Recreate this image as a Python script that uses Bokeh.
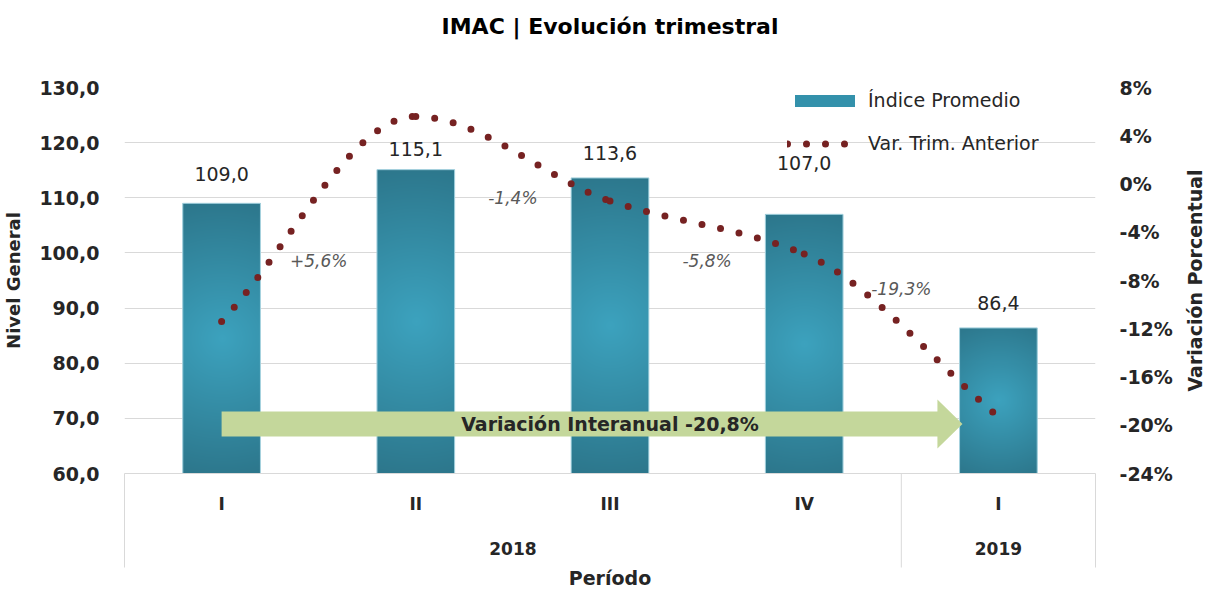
import math
import numpy as np
from bokeh.plotting import figure
from bokeh.models import (Range1d, LinearAxis, FixedTicker, Legend, LegendItem,
                          ColumnDataSource)
from bokeh.embed import file_html
from bokeh.resources import INLINE
from bokeh.core.properties import value

# ---------------- data ----------------
years = ["2018", "2018", "2018", "2018", "2019"]
quarters = ["I", "II", "III", "IV", "I"]
indice = [109.0, 115.1, 113.6, 107.0, 86.4]          # Índice Promedio
var_trim = [-11.4, 5.6, -1.4, -5.8, -19.3]            # Var. Trim. Anterior (%)
interanual = -20.8                                     # Variación Interanual (%)
left_ticks = [60, 70, 80, 90, 100, 110, 120, 130]
left_tick_labels = ["60,0", "70,0", "80,0", "90,0", "100,0", "110,0", "120,0", "130,0"]
right_ticks = [-24, -20, -16, -12, -8, -4, 0, 4, 8]
right_tick_labels = ["-24%", "-20%", "-16%", "-12%", "-8%", "-4%", "0%", "4%", "8%"]
title_text = "IMAC | Evolución trimestral"

# ---------------- layout / style ----------------
FONT = "DejaVu Sans"
FRAME_W, FRAME_H = 971, 386
Y0, Y1 = 60, 130
P0, P1 = -24, 8
PX_PER_Y = FRAME_H / (Y1 - Y0)
PX_PER_X = FRAME_W / len(quarters)
BAR_W = 0.4
EDGE = np.array([44, 118, 139], dtype=float)
CENTER = np.array([60, 162, 190], dtype=float)
DOT = "#762222"
GRID = "#D9D9D9"
TXT = "#262626"
ARROW = "#C4D79B"

n = len(quarters)
xnum = [i + 0.5 for i in range(n)]
bounds = [0] + [i for i in range(1, n) if years[i] != years[i - 1]] + [n]
year_names = [years[b] for b in bounds[:-1]]
year_centers = [(bounds[k] + bounds[k + 1]) / 2 for k in range(len(bounds) - 1)]

p = figure(x_range=Range1d(0, n), y_range=Range1d(Y0, Y1),
           frame_width=FRAME_W, frame_height=FRAME_H,
           min_border_left=116, min_border_right=112, min_border_top=87, min_border_bottom=10,
           output_backend="svg", toolbar_location=None, x_axis_location=None)
p.extra_y_ranges = {"pct": Range1d(P0, P1)}
p.outline_line_color = None
p.background_fill_color = "white"

# grid
p.xgrid.grid_line_color = None
p.ygrid.grid_line_color = GRID
p.ygrid.ticker = FixedTicker(ticks=left_ticks)


def style_axis(ax, size="19px"):
    ax.major_tick_line_color = None
    ax.minor_tick_line_color = None
    ax.major_tick_out = 0
    ax.major_tick_in = 0
    ax.minor_tick_out = 0
    ax.minor_tick_in = 0
    ax.major_label_text_font = FONT
    ax.major_label_text_font_size = size
    ax.major_label_text_font_style = "bold"
    ax.major_label_text_color = TXT
    ax.axis_label_text_font = FONT
    ax.axis_label_text_font_style = "bold"
    ax.axis_label_text_color = TXT


# left axis
ya = p.yaxis[0]
style_axis(ya)
ya.ticker = FixedTicker(ticks=left_ticks)
ya.major_label_overrides = dict(zip(left_ticks, left_tick_labels))
ya.axis_line_color = None
ya.major_label_standoff = 25
ya.axis_label = "Nivel General"
ya.axis_label_text_font_size = "18px"
ya.axis_label_standoff = 12

# right axis
ra = LinearAxis(y_range_name="pct", ticker=FixedTicker(ticks=right_ticks))
style_axis(ra)
ra.major_label_overrides = dict(zip(right_ticks, right_tick_labels))
ra.axis_line_color = None
ra.major_label_standoff = 24
p.add_layout(ra, "right")

# bottom: quarter axis + year axis
qa = LinearAxis(ticker=FixedTicker(ticks=xnum))
style_axis(qa, "17px")
qa.major_label_overrides = dict(zip(xnum, quarters))
qa.axis_line_color = GRID
qa.major_label_standoff = 20
p.add_layout(qa, "below")

yr = LinearAxis(ticker=FixedTicker(ticks=year_centers))
style_axis(yr, "17px")
yr.major_label_overrides = dict(zip(year_centers, year_names))
yr.axis_line_color = None
yr.major_label_standoff = 25
yr.axis_label = "Período"
yr.axis_label_text_font_size = "19px"
yr.axis_label_standoff = 9
p.add_layout(yr, "below")

# title and right axis title, drawn outside the frame (overlay level)
p.text(x=[n / 2], y=[Y1 + 61 / PX_PER_Y], text=[title_text], level="overlay",
       text_align="center", text_baseline="middle", text_font=value(FONT),
       text_font_size="22px", text_font_style="bold", text_color="black")
p.text(x=[n + 99 / PX_PER_X], y=[(Y0 + Y1) / 2], text=["Variación Porcentual"],
       level="overlay", angle=math.pi / 2, text_align="center", text_baseline="middle",
       text_font=value(FONT), text_font_size="19px", text_font_style="bold",
       text_color=TXT)

# group separators below the axis
sep_bottom = Y0 - 94 / PX_PER_Y
p.segment(x0=bounds, y0=[Y0] * len(bounds), x1=bounds, y1=[sep_bottom] * len(bounds),
          line_color=GRID, line_width=1, level="overlay")

# bars: base vbar (legend), gradient images, outline
bar_src = ColumnDataSource(dict(x=xnum, top=indice))
bars = p.vbar(x="x", top="top", bottom=Y0, width=BAR_W, source=bar_src,
              fill_color="#3391AB", line_color=None)


def gradient(w_px, h_px):
    xs = np.arange(w_px) + 0.5 - w_px / 2
    ys = np.arange(h_px) + 0.5 - h_px / 2
    X, Y = np.meshgrid(xs, ys)
    R = np.hypot(w_px / 2, h_px / 2)
    tt = np.clip(np.hypot(X, Y) / R, 0, 1)[..., None]
    c = CENTER * (1 - tt) + EDGE * tt
    img = np.empty((h_px, w_px), dtype=np.uint32)
    view = img.view(dtype=np.uint8).reshape((h_px, w_px, 4))
    view[..., :3] = np.round(c).astype(np.uint8)
    view[..., 3] = 255
    return img


for xc, v in zip(xnum, indice):
    w_px = int(round(BAR_W * PX_PER_X))
    h_px = max(2, int(round((v - Y0) * PX_PER_Y)))
    p.image_rgba(image=[gradient(w_px, h_px)], x=xc - BAR_W / 2, y=Y0, dw=BAR_W, dh=v - Y0)

p.vbar(x="x", top="top", bottom=Y0, width=BAR_W, source=bar_src,
       fill_alpha=0, line_color="#A9D4E0", line_width=1)

# bar value labels
lbl_dy = [-29, -21, -25, -51, -25]
p.text(x=xnum, y=indice, text=[f"{v:.1f}".replace(".", ",") for v in indice],
       y_offset=lbl_dy, text_align="center", text_baseline="middle",
       text_font=value(FONT), text_font_size="19px", text_color=TXT)

# smoothed dotted line (monotone cubic, drawn as bezier segments)
d = [(var_trim[i + 1] - var_trim[i]) / (xnum[i + 1] - xnum[i]) for i in range(n - 1)]
m = [d[0]]
for i in range(1, n - 1):
    if d[i - 1] * d[i] <= 0:
        m.append(0.0)
    else:
        m.append(2 * d[i - 1] * d[i] / (d[i - 1] + d[i]))
m.append(d[-1])
seg = dict(x0=[], y0=[], x1=[], y1=[], cx0=[], cy0=[], cx1=[], cy1=[])
for i in range(n - 1):
    h = xnum[i + 1] - xnum[i]
    seg["x0"].append(xnum[i]); seg["y0"].append(var_trim[i])
    seg["x1"].append(xnum[i + 1]); seg["y1"].append(var_trim[i + 1])
    seg["cx0"].append(xnum[i] + h / 3); seg["cy0"].append(var_trim[i] + m[i] * h / 3)
    seg["cx1"].append(xnum[i + 1] - h / 3); seg["cy1"].append(var_trim[i + 1] - m[i + 1] * h / 3)
curve = p.bezier(source=ColumnDataSource(seg), x0="x0", y0="y0", x1="x1", y1="y1",
                 cx0="cx0", cy0="cy0", cx1="cx1", cy1="cy1",
                 y_range_name="pct", line_color=DOT, line_width=7,
                 line_dash="0 19", line_cap="round")

# percent labels
pct_label_y = [-6.4, -1.2, -6.4, -8.7]
p.text(x=[float(i) for i in range(1, n)], y=pct_label_y,
       text=[f"{v:+.1f}%".replace(".", ",") for v in var_trim[1:]],
       y_range_name="pct", text_align="center", text_baseline="middle",
       text_font=value(FONT), text_font_size="17px", text_font_style="italic",
       text_color="#595959")

# interannual arrow
ay, body_h, head_h = 68.97, 2.27, 4.45
ax0, ax_head, ax_tip = xnum[0], 4.186, 4.315
p.patch(x=[ax0, ax_head, ax_head, ax_tip, ax_head, ax_head, ax0],
        y=[ay + body_h, ay + body_h, ay + head_h, ay, ay - head_h, ay - body_h, ay - body_h],
        fill_color=ARROW, line_color=None)
p.text(x=[n / 2], y=[ay],
       text=[f"Variación Interanual {interanual:.1f}%".replace(".", ",")],
       text_align="center", text_baseline="middle",
       text_font=value(FONT), text_font_size="19px", text_font_style="bold", text_color=TXT)

legend = Legend(items=[LegendItem(label="Índice Promedio", renderers=[bars]),
                       LegendItem(label="Var. Trim. Anterior", renderers=[curve])],
                location=(663, 319), orientation="vertical", background_fill_alpha=0,
                border_line_color=None, padding=0, margin=0, spacing=21,
                glyph_width=75, glyph_height=15, label_standoff=6,
                label_text_font=FONT, label_text_font_size="19px", label_text_color=TXT)
p.add_layout(legend)

open("out.html", "w").write(file_html(p, INLINE))
